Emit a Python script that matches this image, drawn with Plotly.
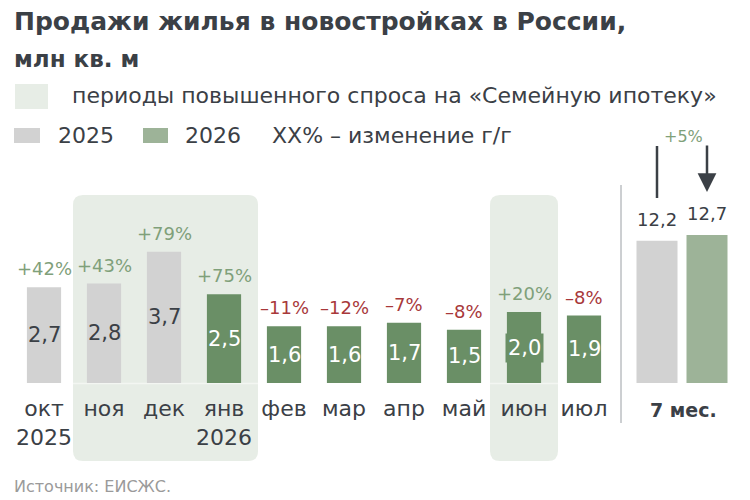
import plotly.graph_objects as go

# monthly sales, mln sq. m
months = ["окт<br>2025", "ноя", "дек", "янв<br>2026", "фев", "мар", "апр", "май", "июн", "июл"]
values = [2.7, 2.8, 3.7, 2.5, 1.6, 1.6, 1.7, 1.5, 2.0, 1.9]
value_labels = ["2,7", "2,8", "3,7", "2,5", "1,6", "1,6", "1,7", "1,5", "2,0", "1,9"]
changes = ["+42%", "+43%", "+79%", "+75%", "–11%", "–12%", "–7%", "–8%", "+20%", "–8%"]
years = [2025, 2025, 2025, 2026, 2026, 2026, 2026, 2026, 2026, 2026]

# 7 months totals
total_cats = ["7 мес. 2025", "7 мес. 2026"]
total_values = [12.2, 12.7]
total_labels = ["12,2", "12,7"]
total_change = "+5%"

FONT = "DejaVu Sans"
DARK = "#3b4046"
GRAY = "#d2d2d2"
GREEN = "#6a8f66"
LIGHT_GREEN = "#9db398"
SHADE = "#e7ede6"
POS = "#7fa07a"
NEG = "#a8383a"

# page body has an 8px margin, so shift everything back by 8px
def px(x):
    return (x - 8) / 750

def py(y):
    return 1 - (y - 8) / 500

def rounded_rect(x0, y0, x1, y1, r):
    # pixel coords -> paper path with rounded corners
    pts = [
        f"M {px(x0 + r)} {py(y0)}",
        f"L {px(x1 - r)} {py(y0)}",
        f"Q {px(x1)} {py(y0)} {px(x1)} {py(y0 + r)}",
        f"L {px(x1)} {py(y1 - r)}",
        f"Q {px(x1)} {py(y1)} {px(x1 - r)} {py(y1)}",
        f"L {px(x0 + r)} {py(y1)}",
        f"Q {px(x0)} {py(y1)} {px(x0)} {py(y1 - r)}",
        f"L {px(x0)} {py(y0 + r)}",
        f"Q {px(x0)} {py(y0)} {px(x0 + r)} {py(y0)} Z",
    ]
    return " ".join(pts)

fig = go.Figure()

bar_colors = [GRAY if y == 2025 else GREEN for y in years]

fig.add_trace(go.Bar(
    x=months, y=values,
    marker_color=bar_colors, marker_line_width=0,
    xaxis="x", yaxis="y", hoverinfo="skip"))

fig.add_trace(go.Bar(
    x=total_cats, y=total_values, width=0.82,
    marker_color=[GRAY, LIGHT_GREEN], marker_line_width=0,
    xaxis="x2", yaxis="y2", hoverinfo="skip"))

base = py(383)
top = py(195)

fig.update_layout(
    width=750, height=500,
    margin=dict(l=0, r=0, t=0, b=0),
    paper_bgcolor="white", plot_bgcolor="rgba(0,0,0,0)",
    showlegend=False, bargap=0.43,
    font=dict(family=FONT, color=DARK),
    xaxis=dict(domain=[px(14), px(614)], range=[-0.5, 9.5], showgrid=False,
               zeroline=False, showline=False, ticks="", ticklabelstandoff=10,
               tickfont=dict(family=FONT, size=22, color=DARK), fixedrange=True),
    yaxis=dict(domain=[base, top], range=[0, 188 / 35.5], visible=False),
    xaxis2=dict(domain=[px(632), px(732)], range=[-0.5, 1.5], anchor="y2",
                type="category", visible=False),
    yaxis2=dict(domain=[base, top], range=[0, 188 / 11.65], visible=False, anchor="x2"),
)

# shaded periods of high demand
for x0, x1 in [(73, 258), (490, 558)]:
    fig.add_shape(type="path", xref="paper", yref="paper", layer="below",
                  path=rounded_rect(x0, 195, x1, 461, 10),
                  fillcolor=SHADE, line_width=0)
    fig.add_shape(type="line", xref="paper", yref="paper", layer="below",
                  x0=px(x0), x1=px(x1), y0=py(383.5), y1=py(383.5),
                  line=dict(color="#f3f6f2", width=1.5))

# value labels inside bars and yoy changes above bars
for m, v, lab, ch, yr in zip(months, values, value_labels, changes, years):
    fig.add_annotation(x=m, y=v / 2, xref="x", yref="y", text=lab, showarrow=False,
                       xanchor="center", yanchor="middle",
                       bgcolor=GREEN if lab == "2,0" else None, borderpad=2,
                       font=dict(family=FONT, size=21,
                                 color=DARK if yr == 2025 else "white"))
    fig.add_annotation(x=m, y=v, xref="x", yref="y", text=ch, showarrow=False,
                       xanchor="center", yanchor="bottom", yshift=6,
                       font=dict(family=FONT, size=18,
                                 color=POS if ch.startswith("+") else NEG))

for c, v, lab in zip(total_cats, total_values, total_labels):
    fig.add_annotation(x=c, y=v, xref="x2", yref="y2", text=lab, showarrow=False,
                       xanchor="center", yanchor="bottom", yshift=9,
                       font=dict(family=FONT, size=18, color=DARK))

# separator
fig.add_shape(type="line", xref="paper", yref="paper",
              x0=px(621), x1=px(621), y0=py(185), y1=py(423),
              line=dict(color="#9a9fa4", width=1))

# arrows for 7 months
fig.add_shape(type="line", xref="paper", yref="paper",
              x0=px(657), x1=px(657), y0=py(146), y1=py(198),
              line=dict(color=DARK, width=2.5))
fig.add_annotation(xref="paper", yref="paper", axref="pixel", ayref="pixel",
                   x=px(707), y=py(192), ax=0, ay=-48, text="",
                   showarrow=True, arrowhead=2, arrowsize=1.5, arrowwidth=2.5,
                   arrowcolor=DARK)
fig.add_annotation(xref="paper", yref="paper", x=px(683), y=py(136),
                   xanchor="center", yanchor="middle",
                   text=total_change, showarrow=False,
                   font=dict(family=FONT, size=16, color=POS))
fig.add_annotation(xref="paper", yref="paper", x=px(683), y=py(410),
                   xanchor="center", yanchor="middle",
                   text="<b>7 мес.</b>", showarrow=False,
                   font=dict(family=FONT, size=19, color=DARK))

# title and legend
fig.add_annotation(xref="paper", yref="paper", x=px(12), y=py(21),
                   xanchor="left", yanchor="middle",
                   text="<b>Продажи жилья в новостройках в России,</b>", showarrow=False,
                   font=dict(family=FONT, size=25, color=DARK))
fig.add_annotation(xref="paper", yref="paper", x=px(12), y=py(59),
                   xanchor="left", yanchor="middle",
                   text="<b>млн кв. м</b>", showarrow=False,
                   font=dict(family=FONT, size=23, color=DARK))
fig.add_shape(type="rect", xref="paper", yref="paper",
              x0=px(15), x1=px(48), y0=py(109), y1=py(84),
              fillcolor=SHADE, line_width=0)
fig.add_annotation(xref="paper", yref="paper", x=px(70), y=py(96),
                   xanchor="left", yanchor="middle",
                   text="периоды повышенного спроса на «Семейную ипотеку»",
                   showarrow=False, font=dict(family=FONT, size=22, color=DARK))
fig.add_shape(type="rect", xref="paper", yref="paper",
              x0=px(14), x1=px(40), y0=py(143), y1=py(128),
              fillcolor=GRAY, line_width=0)
fig.add_annotation(xref="paper", yref="paper", x=px(56), y=py(135),
                   xanchor="left", yanchor="middle",
                   text="2025", showarrow=False, font=dict(family=FONT, size=22, color=DARK))
fig.add_shape(type="rect", xref="paper", yref="paper",
              x0=px(143), x1=px(168), y0=py(143), y1=py(128),
              fillcolor=LIGHT_GREEN, line_width=0)
fig.add_annotation(xref="paper", yref="paper", x=px(183), y=py(135),
                   xanchor="left", yanchor="middle",
                   text="2026", showarrow=False, font=dict(family=FONT, size=22, color=DARK))
fig.add_annotation(xref="paper", yref="paper", x=px(270), y=py(135),
                   xanchor="left", yanchor="middle",
                   text="XX% – изменение г/г", showarrow=False,
                   font=dict(family=FONT, size=22, color=DARK))

fig.add_annotation(xref="paper", yref="paper", x=px(12), y=py(486),
                   xanchor="left", yanchor="middle",
                   text="Источник: ЕИСЖС.", showarrow=False,
                   font=dict(family=FONT, size=16, color="#9a9a9a"))

fig.write_html("out.html")
